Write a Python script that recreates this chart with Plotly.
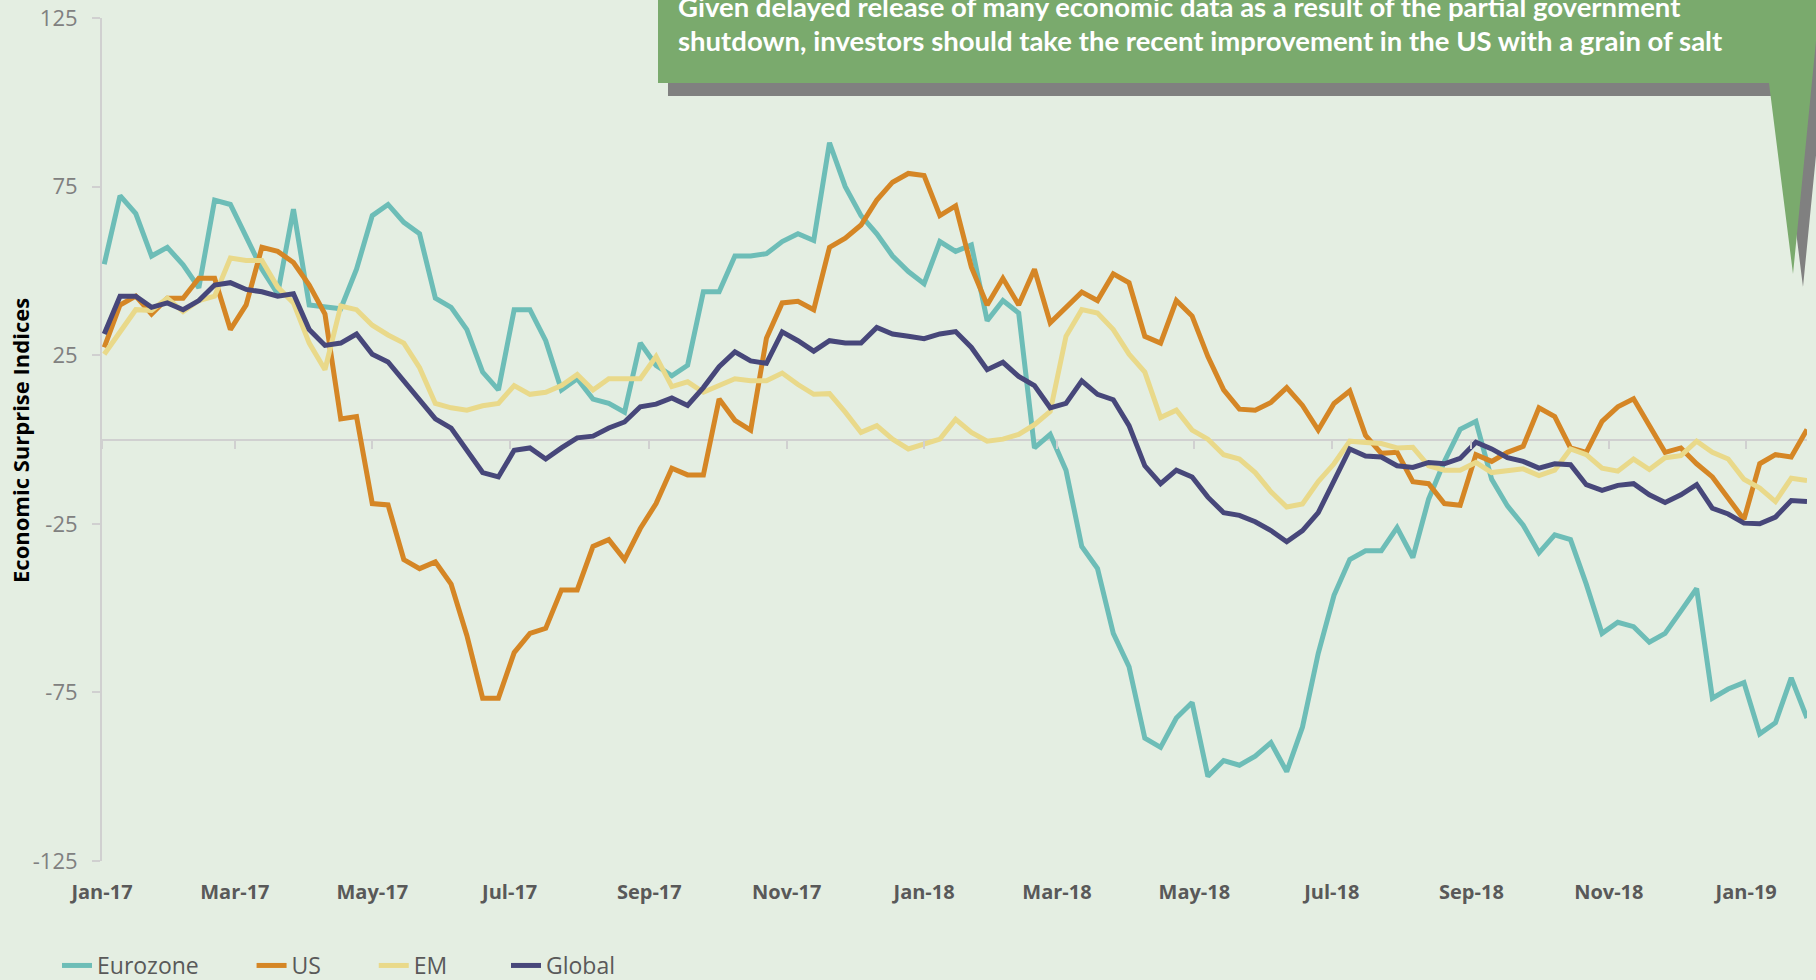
import pandas as pd
import plotly.graph_objects as go

# Weekly observation dates (Mondays), Jan 2017 - Jan 2019
dates = pd.date_range("2017-01-02", periods=109, freq="7D")

eurozone = [52, 72.3, 67, 54.4, 57, 51.8, 45, 71, 69.7, 59.7,
            50.5, 43.2, 68.3, 39.9, 39.2, 38.8, 50.5, 66.4, 69.7, 64.4,
            61, 41.9, 39.2, 32.6, 20, 14.7, 38.5, 38.5, 29.3, 14.7,
            18, 12, 10.7, 8.1, 28.6, 22, 18.9, 22, 43.8, 43.8,
            54.4, 54.4, 55.1, 58.7, 61, 59, 88, 75, 66.4, 61,
            54.4, 49.8, 46.2, 58.7, 55.8, 57.7, 35.2, 41.2, 37.5, -2.5,
            1.5, -9.1, -31.7, -38.3, -57.5, -67.4, -88.6, -91.3, -82.6, -78,
            -99.9, -95.2, -96.6, -93.9, -89.9, -98.5, -85.3, -63.4, -46.2, -35.6,
            -33, -33, -26.1, -35, -17.7, -6.5, 3, 5.4, -11.8, -19.7,
            -25.4, -33.6, -28.3, -29.7, -42.9, -57.5, -54.2, -55.5, -60.1, -57.5,
            -50.9, -44.2, -76.7, -74, -72.1, -87.3, -84, -70.7, -82.6]

us = [27.3, 39.9, 42.5, 37.2, 41.9, 41.9, 47.8, 47.8, 32.6, 39.9,
      57, 55.8, 52.5, 45.8, 37.2, 6.1, 6.8, -19, -19.4, -35.6,
      -38.3, -36.3, -42.9, -58.1, -76.7, -76.7, -63.2, -57.5, -56, -44.6,
      -44.6, -31.7, -29.7, -35.6, -26.4, -19, -8.5, -10.5, -10.5, 12,
      5.7, 2.8, 30, 40.5, 41, 38.5, 57, 59.7, 63.6, 71,
      76.3, 78.9, 78.3, 66.4, 69.3, 51.1, 39.9, 47.8, 39.9, 50.5,
      34.6, 39.2, 43.7, 41.2, 49.1, 46.5, 30.6, 28.6, 41.2, 36.6,
      24.6, 14.7, 9, 8.7, 11, 15.4, 10.1, 2.8, 10.7, 14.4,
      1.2, -4.1, -3.8, -12.5, -13.1, -19, -19.5, -4.5, -6.5, -3.8,
      -2, 9.4, 6.8, -2.5, -3.8, 5.4, 9.7, 12.1, 3.8, -3.8,
      -2.5, -7.2, -11.1, -17.7, -23.7, -7.2, -4.5, -5.2, 3]

em = [25.3, 31.9, 38.5, 38.3, 41.9, 37.9, 41.2, 42.5, 53.8, 53.1,
      53.1, 45.2, 40.5, 28.6, 20.7, 39.6, 38.5, 33.9, 31, 28.6,
      21.3, 10.7, 9.4, 8.7, 10, 10.7, 16, 13.4, 14, 16,
      19.3, 14.7, 18, 18, 18, 24.6, 15.7, 17.1, 14, 16,
      18, 17.4, 17.4, 19.7, 16.3, 13.4, 13.6, 8.1, 2.1, 4.1,
      0.1, -2.8, -1.2, 0.1, 6, 2.1, -0.5, 0.1, 1.5, 4.4,
      8.3, 30.6, 38.5, 37.5, 32.6, 25.3, 20, 6.5, 8.7, 2.8,
      0.1, -4.5, -5.8, -9.8, -15.5, -20, -19.1, -12.5, -7.2, -0.5,
      -0.9, -1.2, -2.5, -2.3, -7.8, -9.1, -9.1, -6.8, -9.8, -9.1,
      -8.7, -10.7, -9.1, -2.8, -4.5, -8.5, -9.4, -5.8, -8.9, -5.4,
      -4.8, -0.5, -3.8, -5.8, -11.8, -14.4, -18.4, -11.5, -12.2]

global_ = [31.3, 42.5, 42.5, 39.2, 40.5, 38.5, 41.2, 45.8, 46.5, 44.5,
           43.8, 42.5, 43.2, 32.6, 27.9, 28.6, 31.3, 25.3, 23, 17.4,
           12.1, 6.1, 3.4, -3.2, -9.8, -11.1, -3.2, -2.5, -5.8, -2.5,
           0.5, 1, 3.4, 5.2, 9.7, 10.5, 12.3, 10.1, 15.4, 21.6,
           26, 23.3, 22.6, 31.9, 29.3, 26.2, 29.3, 28.6, 28.6, 33.2,
           31.3, 30.6, 29.9, 31.3, 32, 27.3, 20.7, 22.9, 18.7, 16,
           9.4, 10.7, 17.4, 13.4, 11.8, 4.1, -7.8, -13.1, -9.1, -11.1,
           -17.1, -21.7, -22.5, -24.4, -27, -30.3, -27, -21.7, -12.5, -2.8,
           -4.9, -5.2, -7.8, -8.3, -6.8, -7.2, -5.6, -0.8, -2.8, -5.4,
           -6.5, -8.5, -7.2, -7.5, -13.4, -15.1, -13.6, -13.1, -16.4, -18.7,
           -16.4, -13.4, -20.4, -22.1, -24.8, -25, -23, -18.1, -18.4]

series_names = ["Eurozone", "US", "EM", "Global"]
series_colors = ["#6DBDB7", "#D58625", "#E9D98A", "#47477A"]
series_values = [eurozone, us, em, global_]

y_tickvals = [-125, -75, -25, 25, 75, 125]
y_ticktext = ["-125", "-75", "-25", "25", "75", "125"]

callout_line1 = "Given delayed release of many economic data as a result of the partial government"
callout_line2 = "shutdown, investors should take the recent improvement in the US with a grain of salt"
y_title = "Economic Surprise Indices"

W, H = 1816, 980
ML, MR, MT, MB = 102, 9, 18, 119
PW, PH = W - ML - MR, H - MT - MB


def px(x):
    return (x - ML) / PW


def py(y):
    return (H - MB - y) / PH


BG = "#E4EEE2"
AXIS_GREY = "#D0D0D0"
legend_pad = [8, 8, 9, 0]  # spacing after each legend entry (non-breaking spaces)

fig = go.Figure()
for name, color, vals, pad in zip(series_names, series_colors, series_values, legend_pad):
    fig.add_trace(go.Scatter(x=dates, y=vals, name=name + "\u00a0" * pad, mode="lines",
                             line=dict(color=color, width=5)))


def path(points):
    return "M " + " L ".join(f"{px(a):.5f},{py(b):.5f}" for a, b in points) + " Z"


callout = [(658, -20), (1822, -20), (1793, 274), (1769, 83), (658, 83)]
shadow = [(a + 10, b + 13) for a, b in callout]

x_start = "2017-01-01"

fig.update_layout(
    width=W, height=H,
    margin=dict(l=ML, r=MR, t=MT, b=MB, autoexpand=False),
    paper_bgcolor=BG, plot_bgcolor=BG,
    showlegend=True,
    legend=dict(orientation="h", x=px(57), xanchor="left", y=py(987), yanchor="bottom",
                font=dict(family="Open Sans", size=23, color="#595959"),
                bgcolor="rgba(0,0,0,0)", tracegroupgap=0),
    xaxis=dict(type="date", range=[x_start, dates[-1]],
               tick0=x_start, dtick="M2", tickformat="%b-%y",
               showgrid=False, showline=False, zeroline=False, ticks="",
               ticklabelstandoff=17,
               tickfont=dict(family="Open Sans", size=20, color="#595959", weight="bold")),
    xaxis2=dict(type="date", overlaying="x", matches="x", anchor="free", position=0.5,
                side="bottom", tick0=x_start, dtick="M2",
                showgrid=False, showline=False, zeroline=False,
                ticks="outside", ticklen=8, tickwidth=2, tickcolor=AXIS_GREY,
                showticklabels=False),
    yaxis=dict(range=[-125, 125], tickvals=y_tickvals, ticktext=y_ticktext,
               showgrid=False, zeroline=True, zerolinecolor=AXIS_GREY, zerolinewidth=2,
               showline=True, linecolor=AXIS_GREY, linewidth=2,
               ticks="outside", ticklen=8, tickwidth=2, tickcolor=AXIS_GREY,
               ticklabelstandoff=10,
               tickfont=dict(family="Open Sans", size=22, color="#808080")),
    shapes=[
        dict(type="path", xref="paper", yref="paper", path=path(shadow),
             fillcolor="#808080", line=dict(width=0), layer="above"),
        dict(type="path", xref="paper", yref="paper", path=path(callout),
             fillcolor="#7AAA6D", line=dict(width=0), layer="above"),
    ],
    annotations=[
        dict(text=callout_line1, xref="paper", yref="paper", x=px(676), y=py(6),
             xanchor="left", yanchor="middle", showarrow=False,
             font=dict(family="Lato", size=27.5, color="white", weight="bold")),
        dict(text=callout_line2, xref="paper", yref="paper", x=px(676), y=py(40),
             xanchor="left", yanchor="middle", showarrow=False,
             font=dict(family="Lato", size=27.5, color="white", weight="bold")),
        dict(text=y_title, xref="paper", yref="paper", x=px(20), y=py(441),
             xanchor="center", yanchor="middle", textangle=-90, showarrow=False,
             font=dict(family="Open Sans", size=22, color="black", weight="bold")),
    ],
)

# helper trace so the zero-line tick axis is rendered
fig.add_trace(go.Scatter(x=[dates[0]], y=[None], xaxis="x2", showlegend=False,
                         hoverinfo="skip", mode="lines"))

fig.write_html("out.html", config={"displayModeBar": False},
               post_script="document.body.style.margin='0';document.body.style.overflow='hidden';")
